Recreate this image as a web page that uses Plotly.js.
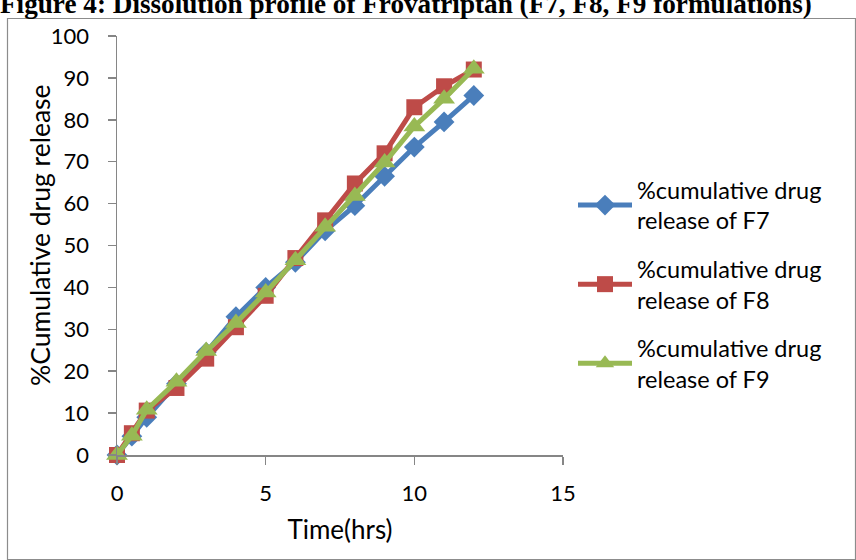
<!DOCTYPE html>
<html>
<head>
<meta charset="utf-8">
<script src="https://cdn.plot.ly/plotly-3.0.1.min.js"></script>
<style>
  html, body { margin: 0; padding: 0; background: #ffffff; }
  #chart { width: 856px; height: 560px; }
</style>
</head>
<body>
<div id="chart"></div>
<script>
// Time points (hrs)
const timeHrs = [0, 0.5, 1, 2, 3, 4, 5, 6, 7, 8, 9, 10, 11, 12];
// % cumulative drug release
const releaseF7 = [0, 4.5, 9, 17, 24.5, 33, 40, 46, 53.5, 59.5, 66.5, 73.5, 79.5, 85.8];
const releaseF8 = [0, 5.2, 10.6, 16, 23, 30.5, 38, 47, 56, 64.8, 72, 83, 88, 92];
const releaseF9 = [0, 4.6, 10.8, 17.5, 24.8, 31.5, 38.8, 46.5, 54.5, 61.8, 69.8, 78.4, 85, 92.2];
const seriesNames = [
  "%cumulative drug<br>release of F7",
  "%cumulative drug<br>release of F8",
  "%cumulative drug<br>release of F9"
];
const figureCaption = "Figure 4: Dissolution profile of Frovatriptan (F7, F8, F9 formulations)";
const yAxisTitle = "%Cumulative drug release";
const xAxisTitle = "Time(hrs)";
const xTickVals = [0, 5, 10, 15];
const yTickVals = [0, 10, 20, 30, 40, 50, 60, 70, 80, 90, 100];

const FONT = "Lato, 'Open Sans', sans-serif";

const traces = [
  {
    x: timeHrs, y: releaseF7, name: seriesNames[0], legendgroup: "g1",
    mode: "lines+markers", type: "scatter", cliponaxis: false,
    line: { color: "#4A7EBB", width: 5 },
    marker: { symbol: "diamond", size: 16, color: "#4A7EBB" }
  },
  {
    x: timeHrs, y: releaseF8, name: seriesNames[1], legendgroup: "g2",
    mode: "lines+markers", type: "scatter", cliponaxis: false,
    line: { color: "#BE4B48", width: 5 },
    marker: { symbol: "square", size: 16, color: "#BE4B48" }
  },
  {
    x: timeHrs, y: releaseF9, name: seriesNames[2], legendgroup: "g3",
    mode: "lines+markers", type: "scatter", cliponaxis: false,
    line: { color: "#98B954", width: 5 },
    marker: { symbol: "triangle-up", size: 19, color: "#98B954" }
  }
];

const L = 117, R = 293, T = 36, B = 105;
const pw = 856 - L - R, ph = 560 - T - B;
const px2x = p => (p - L) / pw;
const px2y = p => 1 - (p - T) / ph;

const layout = {
  width: 856, height: 560,
  margin: { l: L, r: R, t: T, b: B, pad: 0 },
  paper_bgcolor: "#ffffff", plot_bgcolor: "#ffffff",
  font: { family: FONT, size: 22, color: "#000000" },
  showlegend: true,
  legend: {
    x: px2x(573), y: px2y(168), xanchor: "left", yanchor: "top",
    font: { family: FONT, size: 23.5, color: "#000000" },
    tracegroupgap: 15, bgcolor: "rgba(0,0,0,0)", itemwidth: 54
  },
  xaxis: {
    range: [0, 15], tickvals: xTickVals, ticktext: xTickVals.map(String),
    showgrid: false, zeroline: false, showline: true,
    linecolor: "#868686", linewidth: 1.5,
    ticks: "outside", ticklen: 8, tickcolor: "#868686", tickwidth: 1.5,
    ticklabelstandoff: 10,
    tickfont: { family: FONT, size: 22, color: "#000000" },
    title: { text: xAxisTitle, font: { family: FONT, size: 26, color: "#000000" }, standoff: 16 },
    fixedrange: true
  },
  yaxis: {
    range: [0, 100], tickvals: yTickVals, ticktext: yTickVals.map(String),
    showgrid: false, zeroline: false, showline: true,
    linecolor: "#868686", linewidth: 1.5,
    ticks: "outside", ticklen: 8, tickcolor: "#868686", tickwidth: 1.5,
    ticklabelstandoff: 14,
    tickfont: { family: FONT, size: 22, color: "#000000" },
    fixedrange: true
  },
  shapes: [
    {
      type: "rect", xref: "paper", yref: "paper",
      x0: px2x(7.5), x1: px2x(855.5), y0: px2y(559.5), y1: px2y(18.5),
      line: { color: "#8c8c8c", width: 1.2 }, fillcolor: "rgba(0,0,0,0)", layer: "below"
    }
  ],
  annotations: [
    {
      text: "<b>" + figureCaption + "</b>", xref: "paper", yref: "paper",
      x: px2x(-2), y: px2y(21), xanchor: "left", yanchor: "bottom",
      showarrow: false,
      font: { family: "'Liberation Serif', 'Times New Roman', serif", size: 27.2, color: "#000000" }
    },
    {
      text: yAxisTitle, xref: "paper", yref: "paper",
      x: px2x(40), y: px2y(235), xanchor: "center", yanchor: "middle",
      textangle: -90, showarrow: false,
      font: { family: FONT, size: 26.5, color: "#000000" }
    }
  ]
};

Plotly.newPlot("chart", traces, layout, { displayModeBar: false, staticPlot: true });
</script>
</body>
</html>
